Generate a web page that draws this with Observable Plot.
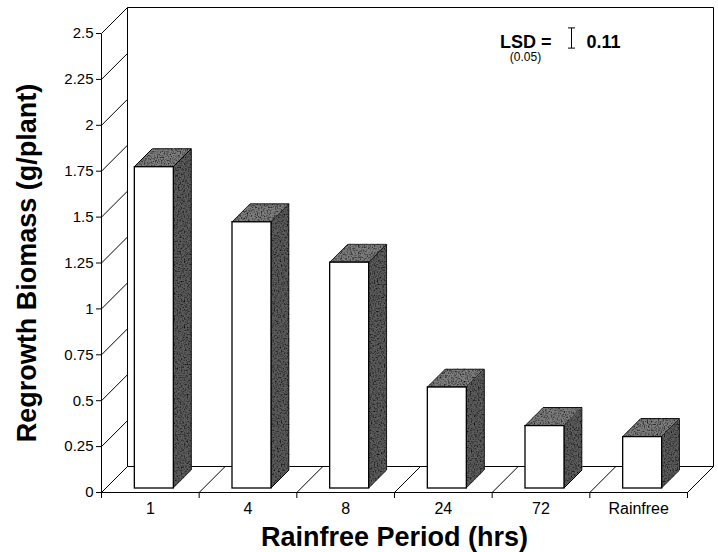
<!DOCTYPE html>
<html>
<head>
<meta charset="utf-8">
<script src="https://cdn.jsdelivr.net/npm/d3@7"></script>
<script src="https://cdn.jsdelivr.net/npm/@observablehq/plot@0.6"></script>
<style>
  html, body { margin: 0; padding: 0; background: #fff; }
  #chart { width: 718px; height: 552px; }
</style>
</head>
<body>
<div id="chart"></div>
<script>
// ---- data ----
const categories = ["1", "4", "8", "24", "72", "Rainfree"];
const biomass = [1.75, 1.45, 1.23, 0.55, 0.34, 0.28];
const yTicks = [0, 0.25, 0.5, 0.75, 1, 1.25, 1.5, 1.75, 2, 2.25, 2.5];
const yTickLabels = ["0", "0.25", "0.5", "0.75", "1", "1.25", "1.5", "1.75", "2", "2.25", "2.5"];
const lsdValue = 0.11;
const lsdLabel = "LSD =";
const lsdSubLabel = "(0.05)";
const lsdValueLabel = "0.11";
const xTitle = "Rainfree Period (hrs)";
const yTitle = "Regrowth Biomass (g/plant)";

// ---- layout ----
const W = 718, H = 552;
const mL = 101, mR = 31, mT = 33, mB = 60;
const yMax = 2.5;
const n = categories.length;
const pxX = (W - mL - mR) / n;      // pixels per category unit
const pxY = (H - mT - mB) / yMax;   // pixels per value unit
const wallPx = 26;                  // depth of the 3D box
const wx = wallPx / pxX, wy = wallPx / pxY;
const frontPx = 4, depthPx = 18, halfPx = 19.5;
const fx = frontPx / pxX, fy = frontPx / pxY;
const dx = depthPx / pxX, dy = depthPx / pxY;
const half = halfPx / pxX;

const bars = categories.map((c, i) => ({
  c, i, v: biomass[i],
  x1: i + 0.5 - half + fx,
  x2: i + 0.5 + half + fx,
  y1: fy,
  y2: biomass[i] + fy
}));

// side face: parallelogram drawn as an area between two slanted edges
const sides = bars.flatMap(b => [
  {id: b.c, x: b.x2, lo: b.y1, hi: b.y2},
  {id: b.c, x: b.x2 + dx, lo: b.y1 + dy, hi: b.y2 + dy}
]);
// top face: parallelogram drawn as an area
const tops = bars.flatMap(b => [
  {id: b.c, x: b.x1, lo: b.y2, hi: b.y2},
  {id: b.c, x: b.x1 + dx, lo: b.y2, hi: b.y2 + dy},
  {id: b.c, x: b.x2, lo: b.y2, hi: b.y2 + dy},
  {id: b.c, x: b.x2 + dx, lo: b.y2 + dy, hi: b.y2 + dy}
]);

const boundaries = d3.range(n + 1);

const segments = [
  {x1: wx, y1: yMax + wy, x2: n + wx, y2: yMax + wy},   // back wall top
  {x1: n + wx, y1: wy, x2: n + wx, y2: yMax + wy},      // back wall right
  {x1: wx, y1: wy, x2: wx, y2: yMax + wy},              // back wall left
  {x1: wx, y1: wy, x2: n + wx, y2: wy},                 // floor back
  {x1: 0, y1: 0, x2: n, y2: 0},                         // floor front
  {x1: 0, y1: 0, x2: 0, y2: yMax},                      // front y axis
  ...yTicks.map(t => ({x1: 0, y1: t, x2: wx, y2: t + wy})),       // left wall diagonals
  ...boundaries.map(b => ({x1: b, y1: 0, x2: b + wx, y2: wy}))    // floor diagonals
];

// LSD annotation anchor
const lsdX = (571 - mL) / pxX;
const lsdY = (H - mB - 37.5) / pxY;
const capHalf = 3.5 / pxX;

const font = "'Liberation Sans', Arial, Helvetica, sans-serif";

const plot = Plot.plot({
  width: W, height: H,
  marginLeft: mL, marginRight: mR, marginTop: mT, marginBottom: mB,
  x: {type: "linear", domain: [0, n]},
  y: {type: "linear", domain: [0, yMax]},
  style: {fontFamily: font, background: "white", color: "black", overflow: "visible"},
  marks: [
    Plot.link(segments, {x1: "x1", y1: "y1", x2: "x2", y2: "y2", stroke: "black", strokeWidth: 1}),
    Plot.ruleX(boundaries, {x: d => d, y1: 0, y2: -6 / pxY, stroke: "black", strokeWidth: 1}),
    Plot.axisY({ticks: yTicks, tickSize: 5, tickPadding: 3, fontSize: 15,
      tickFormat: (d) => yTickLabels[yTicks.indexOf(d)], label: null}),
    Plot.axisX({ticks: bars.map(b => b.i + 0.5), tickSize: 0, tickPadding: 10, fontSize: 16,
      tickFormat: (d) => categories[Math.round(d - 0.5)], label: null}),
    Plot.areaY(sides, {x: "x", y1: "lo", y2: "hi", z: "id", fill: "#5c5c5c",
      stroke: "black", strokeWidth: 1}),
    Plot.areaY(tops, {x: "x", y1: "lo", y2: "hi", z: "id", fill: "#7e7e7e",
      stroke: "black", strokeWidth: 1}),
    Plot.rect(bars, {x1: "x1", x2: "x2", y1: "y1", y2: "y2", fill: "white",
      stroke: "black", strokeWidth: 1.3}),
    // LSD error bar, length from the y scale
    Plot.link([{x1: lsdX, y1: lsdY - lsdValue / 2, x2: lsdX, y2: lsdY + lsdValue / 2},
               {x1: lsdX - capHalf, y1: lsdY - lsdValue / 2, x2: lsdX + capHalf, y2: lsdY - lsdValue / 2},
               {x1: lsdX - capHalf, y1: lsdY + lsdValue / 2, x2: lsdX + capHalf, y2: lsdY + lsdValue / 2}],
      {x1: "x1", y1: "y1", x2: "x2", y2: "y2", stroke: "black", strokeWidth: 1}),
    Plot.text([lsdLabel], {x: lsdX, y: lsdY, text: d => d, dx: -20, dy: 9.5, textAnchor: "end",
      lineAnchor: "bottom", fontSize: 18, fontWeight: "bold"}),
    Plot.text([lsdSubLabel], {x: lsdX, y: lsdY, text: d => d, dx: -46, dy: 23, textAnchor: "middle",
      lineAnchor: "bottom", fontSize: 12}),
    Plot.text([lsdValueLabel], {x: lsdX, y: lsdY, text: d => d, dx: 15, dy: 9.5, textAnchor: "start",
      lineAnchor: "bottom", fontSize: 18, fontWeight: "bold"}),
    // titles
    Plot.text([yTitle], {frameAnchor: "left", text: d => d, rotate: -90, dx: -74,
      textAnchor: "middle", lineAnchor: "middle", fontSize: 27, fontWeight: "bold"}),
    Plot.text([xTitle], {frameAnchor: "bottom", text: d => d, dy: 45,
      textAnchor: "middle", lineAnchor: "middle", fontSize: 27, fontWeight: "bold"})
  ]
});

// speckled shading for the 3D faces
const ns = "http://www.w3.org/2000/svg";
const defs = document.createElementNS(ns, "defs");
defs.innerHTML = `
<filter id="speck" x="0" y="0" width="1" height="1" color-interpolation-filters="sRGB">
  <feTurbulence type="fractalNoise" baseFrequency="0.7" numOctaves="1" seed="5" result="noise"/>
  <feColorMatrix in="noise" type="matrix"
    values="0.33 0.33 0.33 0 0  0.33 0.33 0.33 0 0  0.33 0.33 0.33 0 0  0 0 0 0 1" result="gray"/>
  <feComponentTransfer in="gray" result="contrast">
    <feFuncR type="linear" slope="4" intercept="-1.1"/>
    <feFuncG type="linear" slope="4" intercept="-1.1"/>
    <feFuncB type="linear" slope="4" intercept="-1.1"/>
  </feComponentTransfer>
  <feBlend in="SourceGraphic" in2="contrast" mode="multiply" result="m"/>
  <feComposite in="m" in2="SourceAlpha" operator="in"/>
</filter>`;
plot.insertBefore(defs, plot.firstChild);
plot.querySelectorAll('g[aria-label="area"]').forEach(g => g.setAttribute("filter", "url(#speck)"));
document.getElementById("chart").appendChild(plot);
</script>
</body>
</html>
